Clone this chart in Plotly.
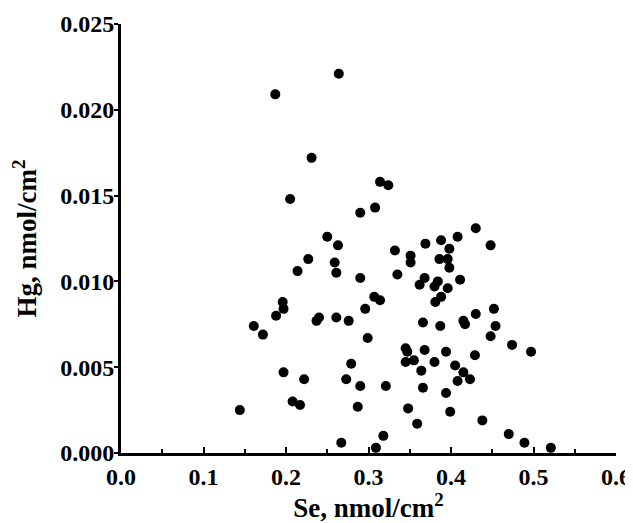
import plotly.graph_objects as go

se = [0.187, 0.231, 0.205, 0.250, 0.227, 0.214, 0.196, 0.197, 0.188, 0.161,
      0.172, 0.197, 0.222, 0.208, 0.217, 0.144, 0.264, 0.314, 0.324, 0.290,
      0.308, 0.263, 0.259, 0.261, 0.290, 0.332, 0.351, 0.351, 0.369, 0.388,
      0.408, 0.430, 0.448, 0.398, 0.386, 0.396, 0.398, 0.335, 0.368, 0.362,
      0.384, 0.380, 0.396, 0.411, 0.388, 0.381, 0.307, 0.314, 0.296, 0.237,
      0.240, 0.261, 0.276, 0.299, 0.366, 0.387, 0.415, 0.417, 0.430, 0.452,
      0.454, 0.448, 0.474, 0.345, 0.347, 0.368, 0.394, 0.345, 0.355, 0.380,
      0.405, 0.429, 0.364, 0.415, 0.408, 0.423, 0.279, 0.273, 0.290, 0.321,
      0.366, 0.394, 0.287, 0.348, 0.399, 0.359, 0.438, 0.470, 0.267, 0.318,
      0.309, 0.489, 0.521, 0.497]

hg = [0.0209, 0.0172, 0.0148, 0.0126, 0.0113, 0.0106, 0.0088, 0.0084, 0.0080, 0.0074,
      0.0069, 0.0047, 0.0043, 0.0030, 0.0028, 0.0025, 0.0221, 0.0158, 0.0156, 0.0140,
      0.0143, 0.0121, 0.0111, 0.0105, 0.0102, 0.0118, 0.0115, 0.0111, 0.0122, 0.0124,
      0.0126, 0.0131, 0.0121, 0.0119, 0.0113, 0.0113, 0.0108, 0.0104, 0.0102, 0.0098,
      0.0100, 0.0097, 0.0096, 0.0101, 0.0091, 0.0088, 0.0091, 0.0089, 0.0084, 0.0077,
      0.0079, 0.0079, 0.0077, 0.0067, 0.0076, 0.0074, 0.0077, 0.0075, 0.0081, 0.0084,
      0.0074, 0.0068, 0.0063, 0.0061, 0.0059, 0.0060, 0.0059, 0.0053, 0.0054, 0.0053,
      0.0051, 0.0057, 0.0048, 0.0047, 0.0042, 0.0043, 0.0052, 0.0043, 0.0039, 0.0039,
      0.0038, 0.0035, 0.0027, 0.0026, 0.0024, 0.0017, 0.0019, 0.0011, 0.0006, 0.0010,
      0.0003, 0.0006, 0.0003, 0.0059]

x_ticks = [0.0, 0.1, 0.2, 0.3, 0.4, 0.5, 0.6]
x_tick_labels = ["0.0", "0.1", "0.2", "0.3", "0.4", "0.5", "0.6"]
y_ticks = [0.000, 0.005, 0.010, 0.015, 0.020, 0.025]
y_tick_labels = ["0.000", "0.005", "0.010", "0.015", "0.020", "0.025"]

FONT = "Liberation Serif"

fig = go.Figure()
fig.add_trace(go.Scatter(
    x=se, y=hg, mode="markers",
    marker=dict(color="black", size=10, line=dict(width=0)),
    showlegend=False, hoverinfo="x+y",
))

# page body has an 8px default margin, so the figure is 8px smaller and shifted
fig.update_layout(
    width=625, height=515,
    margin=dict(l=113, r=17, t=16, b=70),
    paper_bgcolor="white", plot_bgcolor="white",
    font=dict(family=FONT, color="black"),
)

fig.update_xaxes(
    range=[0, 0.6], automargin=False,
    tickvals=x_ticks, ticktext=x_tick_labels,
    ticks="inside", ticklen=6, tickwidth=2, tickcolor="black",
    minor=dict(dtick=0.05, ticks="inside", ticklen=4, tickwidth=2, tickcolor="black", showgrid=False),
    showline=True, linecolor="black", linewidth=3,
    showgrid=False, zeroline=False,
    tickfont=dict(family=FONT, size=24, color="black", weight="bold"),
    title=dict(text="<b>Se, nmol/cm<sup>2</sup></b>", standoff=12,
               font=dict(family=FONT, size=27, color="black")),
)

fig.update_yaxes(
    range=[0, 0.025], automargin=False,
    tickvals=y_ticks, ticktext=y_tick_labels,
    ticks="outside", ticklen=4, tickwidth=2, tickcolor="black",
    ticklabelstandoff=-5,
    showline=True, linecolor="black", linewidth=3,
    showgrid=False, zeroline=False,
    tickfont=dict(family=FONT, size=24, color="black", weight="bold"),
    title=dict(text="<b>Hg, nmol/cm<sup>2</sup></b>", standoff=19,
               font=dict(family=FONT, size=27, color="black")),
)

fig.write_html("out.html")
